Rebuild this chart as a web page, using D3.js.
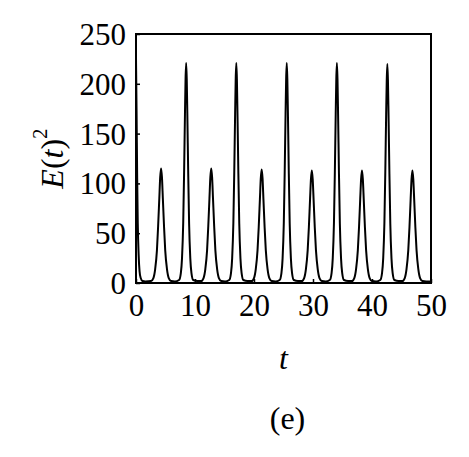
<!DOCTYPE html>
<meta charset="utf-8">
<style>
  body {
    margin: 0;
    background-color: white;
  }
  text {
    font-family: 'Liberation Serif', 'DejaVu Serif', serif;
    fill: black;
  }
</style>
<script src="https://d3js.org/d3.v7.min.js"></script>
<body>
<div id="chart"></div>
<script>
  var tValues = [
    0, 0.1, 0.2, 0.3, 0.45, 0.6, 0.8, 1.1, 1.6,
    2.55, 2.95, 3.25, 3.55, 3.75, 3.95, 4.1, 4.25, 4.4, 4.55, 4.75, 4.95, 5.25, 5.55, 5.95,
    6.6,
    7.3, 7.6, 7.8, 8.0, 8.15, 8.3, 8.4, 8.5, 8.6, 8.7, 8.85, 9.0, 9.2, 9.4, 9.7,
    10.4,
    11.05, 11.45, 11.75, 12.05, 12.25, 12.45, 12.6, 12.75, 12.9, 13.05, 13.25, 13.45, 13.75, 14.05, 14.45,
    15.1,
    15.8, 16.1, 16.3, 16.5, 16.65, 16.8, 16.9, 17.0, 17.1, 17.2, 17.35, 17.5, 17.7, 17.9, 18.2,
    18.9,
    19.6, 20.0, 20.3, 20.6, 20.8, 21.0, 21.15, 21.3, 21.45, 21.6, 21.8, 22.0, 22.3, 22.6, 23.0,
    23.65,
    24.35, 24.65, 24.85, 25.05, 25.2, 25.35, 25.45, 25.55, 25.65, 25.75, 25.9, 26.05, 26.25, 26.45, 26.75,
    27.45,
    28.1, 28.5, 28.8, 29.1, 29.3, 29.5, 29.65, 29.8, 29.95, 30.1, 30.3, 30.5, 30.8, 31.1, 31.5,
    32.15,
    32.85, 33.15, 33.35, 33.55, 33.7, 33.85, 33.95, 34.05, 34.15, 34.25, 34.4, 34.55, 34.75, 34.95, 35.25,
    35.95,
    36.6, 37.0, 37.3, 37.6, 37.8, 38.0, 38.15, 38.3, 38.45, 38.6, 38.8, 39.0, 39.3, 39.6, 40.0,
    40.7,
    41.4, 41.7, 41.9, 42.1, 42.25, 42.4, 42.5, 42.6, 42.7, 42.8, 42.95, 43.1, 43.3, 43.5, 43.8,
    44.5,
    45.15, 45.55, 45.85, 46.15, 46.35, 46.55, 46.7, 46.85, 47.0, 47.15, 47.35, 47.55, 47.85, 48.15, 48.55,
    49.2, 50
  ];
  var e2Values = [
    226, 170, 105, 60, 28, 12, 5, 2, 1.5,
    2, 5, 14, 33, 57, 85, 106, 115, 106, 85, 57, 33, 14, 5, 2,
    1.5,
    3, 10, 25, 60, 110, 170, 205, 221, 205, 170, 110, 60, 25, 10, 3,
    2,
    2, 5, 14, 33, 57, 85, 106, 115, 106, 85, 57, 33, 14, 5, 2,
    1.5,
    3, 10, 25, 60, 110, 170, 205, 221, 205, 170, 110, 60, 25, 10, 3,
    2,
    2, 5, 14, 33, 56, 84, 105, 114, 105, 84, 56, 33, 14, 5, 2,
    1.5,
    3, 10, 25, 60, 110, 170, 205, 221, 205, 170, 110, 60, 25, 10, 3,
    2,
    2, 5, 14, 33, 56, 84, 104, 113, 104, 84, 56, 33, 14, 5, 2,
    1.5,
    3, 10, 25, 60, 110, 170, 205, 221, 205, 170, 110, 60, 25, 10, 3,
    2,
    2, 5, 14, 33, 56, 84, 104, 113, 104, 84, 56, 33, 14, 5, 2,
    1.5,
    3, 10, 25, 60, 110, 170, 204, 220, 204, 170, 110, 60, 25, 10, 3,
    2,
    2, 5, 14, 33, 56, 84, 104, 113, 104, 84, 56, 33, 14, 5, 2,
    1.5, 1.5
  ];
  var xTicks = [0, 10, 20, 30, 40, 50];
  var yTicks = [0, 50, 100, 150, 200, 250];

  var margin = {top: 34, right: 38, bottom: 174, left: 136},
    width = 469 - margin.left - margin.right,
    height = 457 - margin.top - margin.bottom;

  var svg = d3.select("#chart")
    .append("svg")
      .attr("width", 469)
      .attr("height", 457)
    .append("g")
      .attr("transform", "translate(" + margin.left + "," + margin.top + ")");

  var x = d3.scaleLinear().domain([0, 50]).range([0, width]);
  var y = d3.scaleLinear().domain([0, 250]).range([height, 0]);

  var data = tValues.map(function(t, i) { return {t: t, v: e2Values[i]}; });

  svg.append("clipPath")
    .attr("id", "clip")
    .append("rect")
      .attr("width", width)
      .attr("height", height);

  var line = d3.line()
    .x(function(d) { return x(d.t); })
    .y(function(d) { return y(d.v); })
    .curve(d3.curveMonotoneX);

  svg.append("path")
    .datum(data)
    .attr("clip-path", "url(#clip)")
    .attr("d", line)
    .attr("fill", "none")
    .attr("stroke", "black")
    .attr("stroke-width", 2);

  // axes with inward ticks
  var xAxis = svg.append("g")
    .attr("transform", "translate(0," + height + ")")
    .call(d3.axisBottom(x).tickValues(xTicks).tickSizeInner(-4).tickSizeOuter(0).tickPadding(11));
  var yAxis = svg.append("g")
    .call(d3.axisLeft(y).tickValues(yTicks).tickSizeInner(-4).tickSizeOuter(0).tickPadding(10));

  [xAxis, yAxis].forEach(function(a) {
    a.select(".domain").remove();
    a.selectAll("line").attr("stroke", "black").attr("stroke-width", 1.5);
    a.selectAll("text")
      .attr("font-size", "31px")
      .attr("font-family", "'Liberation Serif', serif")
      .attr("fill", "black");
  });
  yAxis.selectAll("text").attr("dy", "0.34em");
  xAxis.selectAll("text").attr("dy", "0.72em");

  // frame
  svg.append("rect")
    .attr("width", width)
    .attr("height", height)
    .attr("fill", "none")
    .attr("stroke", "black")
    .attr("stroke-width", 2);

  // axis titles
  svg.append("text")
    .attr("x", width / 2)
    .attr("y", height + 86)
    .attr("text-anchor", "middle")
    .attr("font-size", "32px")
    .attr("font-style", "italic")
    .text("t");

  var yl = svg.append("text")
    .attr("transform", "translate(-73," + (height / 2) + ") rotate(-90)")
    .attr("text-anchor", "middle")
    .attr("font-size", "32px");
  yl.append("tspan").attr("font-style", "italic").text("E");
  yl.append("tspan").text("(");
  yl.append("tspan").attr("font-style", "italic").text("t");
  yl.append("tspan").text(")");
  yl.append("tspan").attr("font-size", "21px").attr("dy", "-0.75em").text("2");

  svg.append("text")
    .attr("x", width / 2 + 4)
    .attr("y", height + 146)
    .attr("text-anchor", "middle")
    .attr("font-size", "32px")
    .text("(e)");
</script>
</body>
